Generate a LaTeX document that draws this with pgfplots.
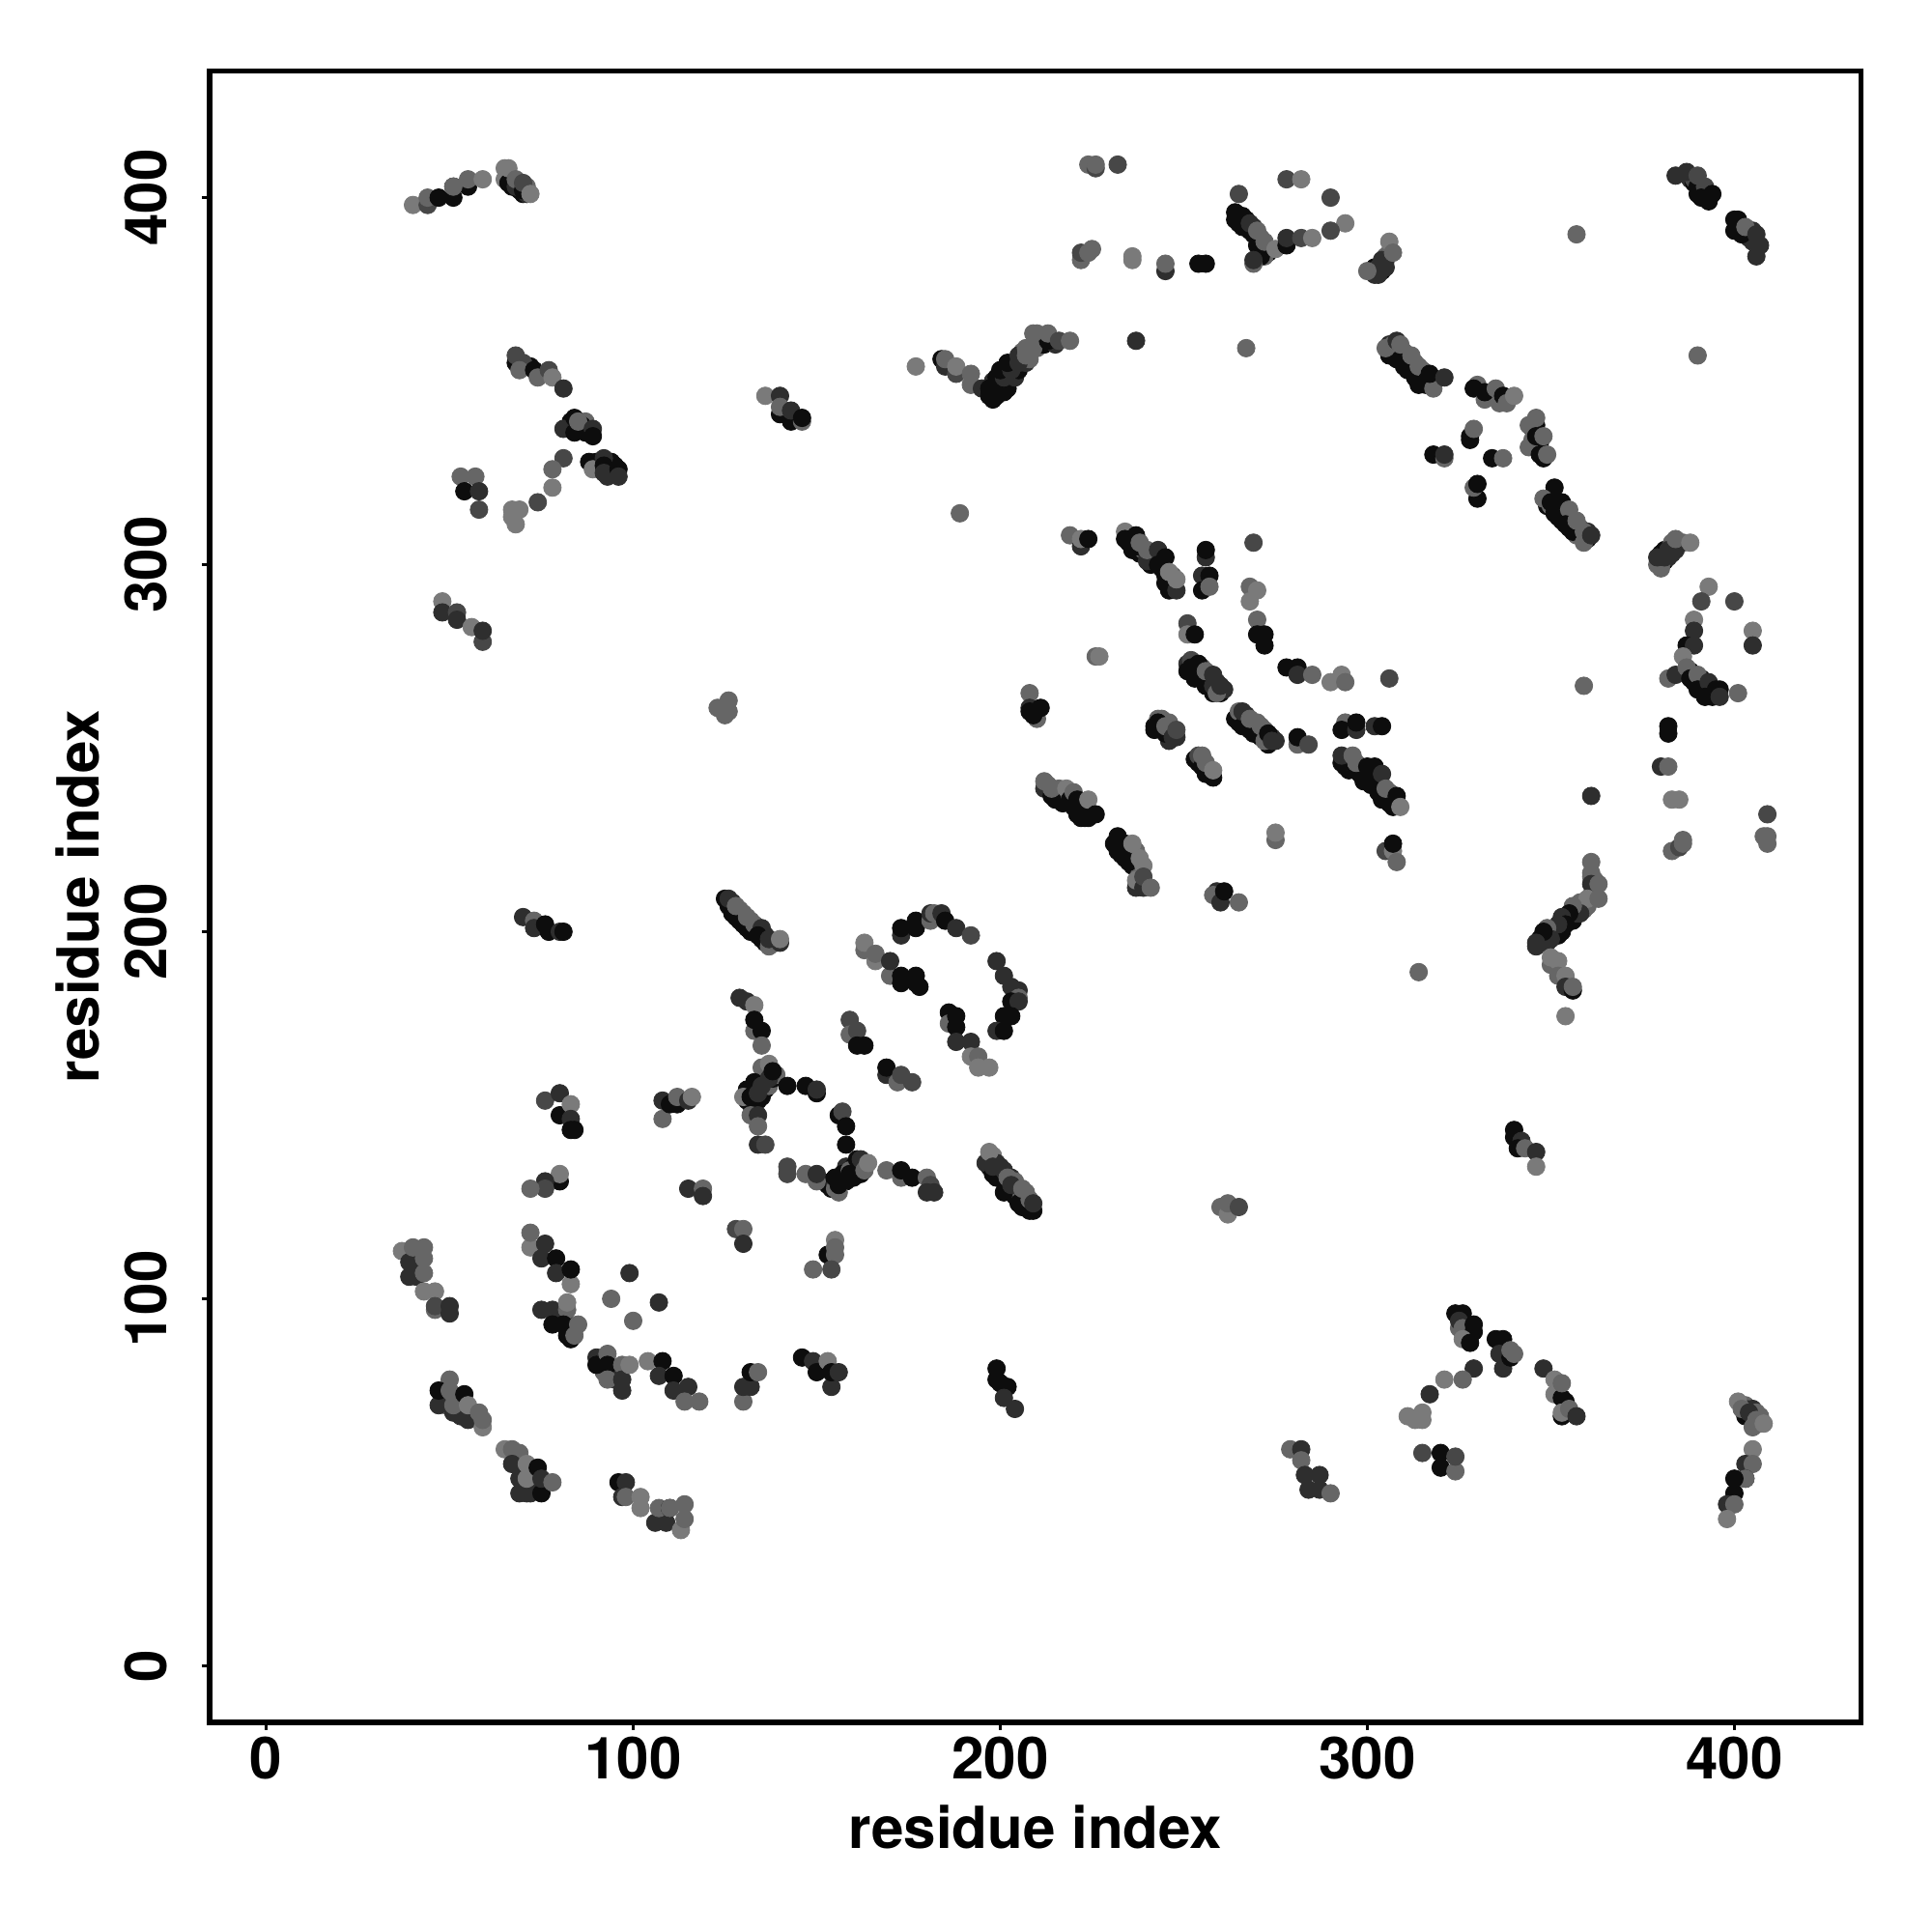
\documentclass[border=0pt]{standalone}
\usepackage{pgfplots}
\usepackage{pgfplotstable}
\usepackage{fontspec}
\setmainfont{TeX Gyre Heros}
\pgfplotsset{compat=1.18}
\pgfplotstableread{
x y g
66 406 d
67 405 k
67 403 k
68 404 k
69 404 d
69 402 k
70 401 k
71 403 m
71 401 d
235 306 k
236 307 k
236 304 k
238 305 k
238 303 k
239 304 m
240 303 d
241 302 k
241 300 k
242 301 d
243 302 k
244 299 k
244 301 k
246 296 k
247 294 k
247 297 m
245 295 k
127 208 d
127 205 k
129 206 m
129 203 k
130 205 m
130 202 k
132 203 m
132 200 k
133 200 k
134 201 d
135 198 k
136 199 d
136 197 k
138 197 m
139 197 m
197 138 d
197 136 k
198 139 l
199 137 d
199 135 k
199 133 k
200 133 k
200 136 d
201 132 k
202 131 k
203 133 d
203 129 k
204 132 m
204 128 k
205 129 m
206 127 k
206 125 k
207 128 m
207 125 k
207 129 m
209 124 k
198 345 k
199 346 k
199 349 k
198 350 d
201 347 k
201 350 k
202 348 k
202 352 d
203 351 k
204 351 d
204 354 k
205 353 k
206 356 m
207 355 d
208 358 m
208 356 m
206 358 m
210 359 m
210 361 k
211 360 k
212 360 k
210 363 m
212 362 m
215 360 d
265 395 k
265 393 k
267 394 k
267 392 k
269 390 k
269 392 d
271 389 m
271 386 k
272 386 k
273 385 k
270 387 k
272 384 m
306 360 d
306 357 k
307 358 k
307 360 m
308 356 k
309 358 m
310 358 m
310 354 k
311 353 k
311 356 m
313 355 m
313 351 k
313 353 m
315 353 m
315 350 k
317 349 k
316 349 k
349 316 k
350 316 m
351 316 m
352 316 k
352 313 k
353 315 m
353 312 k
354 314 m
355 313 m
355 310 k
356 312 m
357 310 k
358 310 m
358 308 k
360 309 d
360 307 k
359 307 k
357 308 m
294 247 k
294 245 k
295 247 m
295 244 k
296 246 m
298 245 m
298 243 k
299 243 m
299 241 k
301 243 m
301 241 k
301 240 k
303 241 m
303 238 k
304 240 m
305 237 k
306 238 m
306 235 k
307 236 m
308 235 k
251 273 d
251 271 k
253 273 k
253 271 m
253 269 k
255 271 k
255 269 k
255 272 m
257 268 k
257 270 m
259 268 d
259 266 k
260 265 k
258 265 k
261 266 d
242 256 k
244 258 m
244 255 k
246 257 m
246 254 k
247 255 m
246 252 d
248 253 d
242 255 k
264 258 k
265 258 k
267 259 d
267 256 k
269 257 m
269 254 k
270 255 k
270 257 m
272 255 m
272 253 k
274 253 d
273 251 k
275 252 d
265 257 k
213 240 m
215 238 m
215 236 k
216 239 m
217 238 m
217 235 k
218 236 k
219 237 m
220 234 k
222 235 k
222 233 k
223 234 k
223 231 k
225 232 k
222 231 k
232 224 k
233 224 k
232 222 k
235 222 k
234 220 k
236 220 k
236 218 k
237 222 m
238 218 m
238 216 m
238 214 d
402 392 k
404 391 d
404 389 d
405 391 d
405 388 d
388 405 d
389 404 k
389 405 e
391 402 e
390 401 k
392 400 k
392 401 k
347 198 k
348 198 k
349 199 d
349 197 d
350 200 d
351 201 k
351 199 k
352 201 d
353 202 k
353 200 k
354 204 d
355 203 k
356 205 m
356 203 k
357 206 m
357 205 d
358 207 m
359 208 m
359 206 m
360 207 m
361 210 m
362 210 m
362 212 m
362 214 m
361 215 m
380 303 k
381 304 k
381 301 k
382 302 d
383 303 d
383 305 e
383 306 m
385 306 m
386 306 m
379 300 m
380 299 m
302 381 k
302 379 d
303 381 d
304 380 k
305 383 d
306 385 m
304 381 m
305 384 m
388 271 k
389 269 k
389 268 k
391 269 k
391 267 k
392 267 k
393 266 k
394 265 k
394 264 k
396 266 k
403 71 m
403 68 k
405 67 k
405 70 d
406 69 m
407 68 m
407 66 m
403 70 d
131 154 k
132 153 k
133 155 k
134 154 k
135 155 k
135 160 m
136 159 k
136 157 k
134 158 k
136 162 m
137 158 m
138 160 k
139 161 m
131 157 k
153 131 k
154 132 k
154 130 k
156 133 k
157 132 k
158 136 d
158 132 k
160 136 k
160 133 k
161 135 k
162 134 k
163 137 k
155 131 d
156 129 m
70 49 k
70 52 m
73 49 d
72 47 d
73 52 d
69 47 d
49 73 k
49 71 m
52 72 m
53 70 d
53 68 d
95 80 k
95 78 d
92 80 m
327 92 k
327 90 k
325 92 m
354 72 k
355 69 k
91 83 d
42 110 d
41 112 m
41 108 d
41 106 d
81 94 k
79 95 d
81 95 d
84 92 k
83 92 k
83 89 k
90 328 k
91 326 k
94 326 d
94 328 k
93 324 d
95 327 k
83 339 k
86 337 k
87 339 m
86 338 k
87 336 k
83 337 k
88 336 k
71 354 k
72 354 k
334 346 k
333 346 m
345 337 k
346 338 k
346 333 k
347 333 k
345 334 m
347 331 k
}\under
\pgfplotstableread{
x y g
40 398 l
44 398 e
44 400 m
47 400 k
51 400 k
51 403 k
55 403 k
51 403 m
55 405 m
59 405 l
65 405 l
65 408 l
66 404 k
66 408 l
68 403 d
68 405 m
70 402 k
70 404 e
72 401 l
68 355 k
68 357 e
70 355 e
69 353 m
73 353 k
74 351 m
77 353 e
78 351 l
81 348 d
81 337 d
84 336 k
84 340 k
85 339 m
89 337 d
89 335 k
81 329 e
78 326 m
78 321 l
74 317 e
88 328 k
89 326 l
92 329 d
92 327 k
92 325 d
96 326 k
96 324 d
53 324 m
57 324 m
54 320 k
58 320 d
58 315 e
67 315 l
69 315 l
67 313 l
68 311 l
136 346 l
140 346 d
140 341 k
140 343 m
143 339 k
143 342 d
146 339 m
146 340 k
48 290 l
48 287 d
52 287 e
52 285 d
56 283 l
59 279 e
59 282 d
70 204 d
73 203 m
73 201 d
76 202 k
77 200 k
80 200 d
81 200 k
224 409 m
226 408 e
226 409 m
232 409 e
278 405 e
282 405 l
290 400 e
265 401 e
294 393 l
290 391 e
264 394 k
264 396 k
266 392 k
266 395 k
268 391 k
268 393 d
270 389 k
270 391 m
271 384 k
269 382 m
269 383 d
272 388 m
275 386 l
278 387 k
278 389 d
282 389 e
285 389 l
222 383 m
222 385 e
225 386 m
224 385 m
236 383 l
236 384 l
245 380 d
245 382 m
254 382 k
256 382 k
177 354 l
184 356 k
185 354 d
185 356 m
188 352 e
188 354 l
192 352 m
192 349 m
195 348 d
197 346 k
197 348 k
200 348 k
199 351 k
201 351 d
200 353 k
203 353 d
202 355 k
205 355 d
205 357 d
207 357 m
207 359 m
209 359 m
213 361 k
209 363 m
213 363 m
216 361 e
219 361 m
237 361 d
267 359 m
189 314 m
219 308 m
222 305 d
222 307 l
224 307 k
234 309 l
234 307 k
237 305 k
237 308 k
238 306 m
240 301 d
240 304 m
243 304 d
243 300 k
245 297 k
245 302 k
246 293 k
248 293 d
246 298 l
248 296 l
256 302 d
256 304 k
255 297 d
255 293 k
257 297 k
257 294 m
269 306 e
268 294 m
268 290 l
270 293 l
270 285 m
251 284 e
251 281 l
253 281 k
270 281 k
272 281 k
272 278 k
278 272 k
281 272 k
281 270 d
285 270 m
290 268 l
293 270 l
294 268 m
306 269 e
226 275 m
227 275 l
208 265 m
210 258 m
208 261 d
208 260 k
209 259 k
211 261 k
252 274 e
252 272 k
254 270 k
254 273 k
256 267 k
256 271 m
258 267 d
258 270 d
259 265 m
260 267 d
243 258 m
243 257 k
245 254 k
245 256 m
247 253 d
248 255 e
253 247 k
254 246 k
254 248 e
255 245 k
255 248 m
256 243 k
257 243 k
258 242 k
256 246 m
258 244 l
265 260 m
266 256 k
266 260 d
268 255 k
268 258 m
271 253 k
271 256 m
272 252 m
273 254 k
274 252 d
281 251 m
281 253 k
284 251 e
294 257 m
293 255 k
297 255 d
297 257 k
302 256 d
304 256 k
293 246 k
293 248 d
296 248 m
297 244 k
297 246 m
300 242 k
300 245 k
302 240 k
302 245 k
304 243 d
304 236 k
305 239 m
307 234 k
308 237 k
309 234 l
275 225 m
275 227 l
305 222 e
307 222 l
307 224 k
308 219 m
212 239 d
212 241 m
214 237 k
214 239 m
218 239 l
219 236 k
220 238 m
221 232 k
221 236 k
224 231 k
224 236 l
226 232 k
232 226 k
231 224 k
234 224 k
233 221 k
235 219 k
236 224 l
238 220 l
239 218 l
237 212 d
237 214 l
239 212 d
239 215 e
241 212 m
259 211 d
258 210 m
260 208 d
261 211 k
265 208 m
314 189 m
125 209 k
126 207 k
126 209 d
128 204 k
128 207 m
131 201 k
131 204 m
133 202 m
135 201 d
134 199 k
137 196 m
137 198 d
140 197 d
140 198 l
173 199 d
173 201 k
177 201 k
177 203 k
181 203 m
181 205 d
182 205 m
184 205 d
185 203 k
188 201 d
192 199 e
163 195 m
163 197 l
166 192 l
166 194 m
170 188 m
170 192 d
173 186 k
173 188 k
177 188 k
177 186 k
178 185 k
199 192 d
201 188 d
203 185 d
205 184 d
205 182 m
203 181 k
205 181 d
203 177 k
201 177 k
199 173 d
201 173 k
186 178 k
186 175 m
188 177 k
188 174 k
188 170 d
192 170 d
192 166 l
194 166 m
194 163 l
197 163 l
129 182 d
131 181 d
133 180 l
133 173 m
133 176 k
135 173 k
135 169 m
159 176 e
159 172 m
161 173 e
161 169 k
163 169 k
169 161 d
169 163 k
172 159 m
173 161 e
176 159 e
130 155 l
135 163 m
137 164 l
133 156 k
133 159 k
132 155 k
135 158 d
134 156 d
137 160 d
138 162 k
142 158 k
147 158 k
150 156 k
150 157 d
156 150 k
157 151 e
158 147 k
158 142 k
132 150 m
134 150 d
134 147 m
134 142 d
136 142 e
142 134 e
142 136 e
147 134 m
150 132 m
150 134 d
155 130 m
155 133 k
156 131 k
157 134 k
159 135 m
159 134 k
161 138 k
162 138 d
163 135 m
164 137 l
169 135 m
173 133 m
173 135 k
176 133 k
180 133 m
181 131 e
180 129 d
182 129 d
196 137 d
197 140 l
198 134 k
198 136 d
201 135 d
201 129 k
202 133 m
203 131 d
205 126 k
206 130 m
208 124 k
208 127 m
209 126 d
115 130 d
119 130 m
119 128 d
128 119 e
130 119 m
130 115 d
153 112 k
155 116 l
155 114 m
155 112 m
154 108 e
149 108 m
76 154 e
80 156 d
80 150 k
83 153 l
83 149 d
83 146 k
84 146 k
108 149 m
108 154 d
110 153 k
112 153 k
112 155 m
115 154 d
116 155 l
80 132 k
80 134 l
76 132 d
76 130 e
72 130 m
72 114 l
72 118 m
76 115 d
75 111 d
79 111 k
79 107 d
83 104 l
83 108 k
37 113 l
39 106 d
39 110 d
40 114 m
43 107 m
43 111 m
43 114 m
43 102 l
46 102 l
46 97 m
46 98 e
50 96 d
50 98 d
75 97 d
78 97 d
82 97 m
82 99 l
78 93 k
81 93 k
82 90 k
84 90 m
85 93 m
94 100 m
99 107 d
107 99 d
100 94 m
90 84 d
90 82 k
93 85 m
93 82 k
93 78 m
97 82 m
97 78 d
97 75 d
99 82 l
104 83 l
108 83 k
107 79 d
111 79 k
111 75 d
115 76 d
114 72 m
118 72 m
130 72 m
130 76 d
132 76 d
132 80 k
134 80 m
146 84 k
149 83 d
150 80 k
153 83 l
154 76 d
154 80 k
156 80 d
50 78 m
47 71 d
47 75 k
50 75 m
51 69 d
51 71 m
54 74 k
55 67 d
55 71 l
58 69 m
59 65 l
59 67 m
65 59 l
67 59 m
69 58 m
67 55 d
69 51 d
71 47 d
71 51 l
71 55 l
74 54 k
75 47 k
75 51 d
78 50 m
96 50 k
98 50 d
97 46 d
98 46 m
102 43 l
102 46 l
106 39 d
109 39 d
107 43 m
110 43 k
110 43 m
113 37 l
114 40 m
114 44 m
324 96 k
326 96 k
325 94 d
326 92 m
329 93 k
329 91 k
326 89 l
328 88 k
329 81 d
326 78 m
321 78 l
317 74 d
311 68 l
313 67 l
315 67 l
315 69 l
315 58 e
320 54 k
320 58 k
324 53 m
324 57 e
335 89 k
337 89 k
336 85 d
337 81 d
339 84 k
339 86 m
340 85 m
348 81 d
351 74 l
351 78 l
353 73 k
353 77 m
353 68 k
353 69 l
355 70 m
357 68 d
401 72 l
402 70 m
404 69 d
405 65 m
406 67 m
408 66 l
405 59 l
403 55 d
405 55 m
403 51 k
403 51 m
400 51 k
400 47 k
398 44 d
400 44 m
398 40 l
340 144 k
340 146 k
342 143 d
341 141 k
343 141 m
346 140 d
346 136 l
306 388 l
304 383 d
305 381 d
303 379 d
300 380 m
307 385 m
384 406 d
387 407 d
390 403 k
390 406 e
392 403 e
391 400 k
393 399 k
394 401 k
400 391 k
400 394 k
401 394 k
402 390 k
403 392 m
406 384 d
406 390 d
407 387 d
357 390 m
390 357 m
305 359 m
308 361 d
309 356 k
309 360 m
312 353 k
312 357 m
314 349 k
314 354 m
316 350 k
318 348 m
317 352 k
321 351 d
330 349 m
329 348 k
332 345 m
332 347 k
335 348 m
336 344 m
337 346 k
338 344 m
340 346 l
328 334 k
328 335 k
329 337 m
318 330 k
321 329 m
321 330 d
334 329 k
337 329 m
330 318 k
329 321 m
330 322 k
344 332 m
344 338 m
346 335 k
346 340 m
348 329 k
347 330 k
348 335 m
349 330 m
351 321 k
348 318 m
350 317 k
353 317 k
351 314 k
355 315 m
354 311 k
356 309 k
357 312 m
359 306 m
359 309 m
361 308 d
380 300 m
379 302 d
381 302 d
382 304 d
384 304 d
384 307 m
388 306 l
393 294 l
391 290 e
400 290 e
389 285 l
405 282 l
389 282 d
405 278 d
387 278 k
389 278 d
386 275 l
382 269 m
384 270 d
387 272 m
388 269 k
390 270 m
390 266 k
393 268 d
392 264 k
395 266 k
396 264 d
401 265 m
359 267 m
382 256 k
382 254 k
380 245 d
382 245 m
361 237 d
383 236 l
385 236 l
409 232 e
408 226 m
409 224 m
409 226 m
383 222 m
385 223 e
386 224 m
386 225 m
361 219 m
361 216 m
361 213 d
363 213 m
358 208 m
360 209 l
363 209 m
358 205 d
356 207 m
355 205 k
353 204 d
354 202 k
352 199 k
352 202 d
349 201 m
350 198 d
348 200 k
346 196 d
346 197 d
350 191 m
350 193 l
352 192 l
352 188 m
354 188 l
354 185 d
356 184 k
356 185 m
354 177 l
123 261 m
125 259 m
126 260 m
126 263 m
260 125 m
262 123 l
262 126 m
265 125 e
199 78 k
199 81 k
200 77 k
202 76 k
201 73 d
204 70 d
279 59 m
282 59 d
282 56 m
283 52 d
287 52 d
284 48 d
287 48 d
290 47 m
}\pts
\pgfplotsset{dots/.style={only marks,scatter,mark=*,mark size=2.3pt,
  scatter/classes={
   k={mark=*,line width=.2pt,fill=black!95,draw=black!95},
   d={mark=*,line width=.2pt,fill=black!82,draw=black!82},
   e={mark=*,line width=.2pt,fill=black!72,draw=black!72},
   m={mark=*,line width=.2pt,fill=black!60,draw=black!60},
   l={mark=*,line width=.2pt,fill=black!52,draw=black!52}},
  scatter src=explicit symbolic}}
\begin{document}
\begin{tikzpicture}
\path[use as bounding box] (-54.9pt,-54.9pt) rectangle +(506pt,506pt);
\begin{axis}[
  at={(0,0)},anchor=south west,scale only axis,
  width=432.6pt,height=432.6pt,
  xmin=-15.4,xmax=434.6,ymin=-15.4,ymax=434.6,
  axis line style={line width=1.3pt,black},
  tick style={line width=.8pt,black},
  tick align=outside,
  tickwidth=1.9pt,
  xtick={0,100,200,300,400},ytick={0,100,200,300,400},
  xtick pos=bottom,ytick pos=left,
  /pgf/number format/assume math mode=true,
  tick label style={font=\fontsize{15.2}{18}\selectfont\bfseries},
  xlabel style={font=\fontsize{15.2}{18}\selectfont\bfseries,at={(axis description cs:0.5,-0.0635)},anchor=center},
  ylabel style={font=\fontsize{15.2}{18}\selectfont\bfseries,at={(axis description cs:-0.0801,0.5)},anchor=center},
  xticklabel style={anchor=center,yshift=-7.5pt},
  yticklabel style={rotate=90,anchor=center,yshift=14.9pt},
  xlabel={residue index},ylabel={residue index},
]
\addplot[dots] table[x=x,y=y,meta=g] {\under};
\addplot[dots] table[x=x,y=y,meta=g] {\pts};
\end{axis}
\end{tikzpicture}
\end{document}
